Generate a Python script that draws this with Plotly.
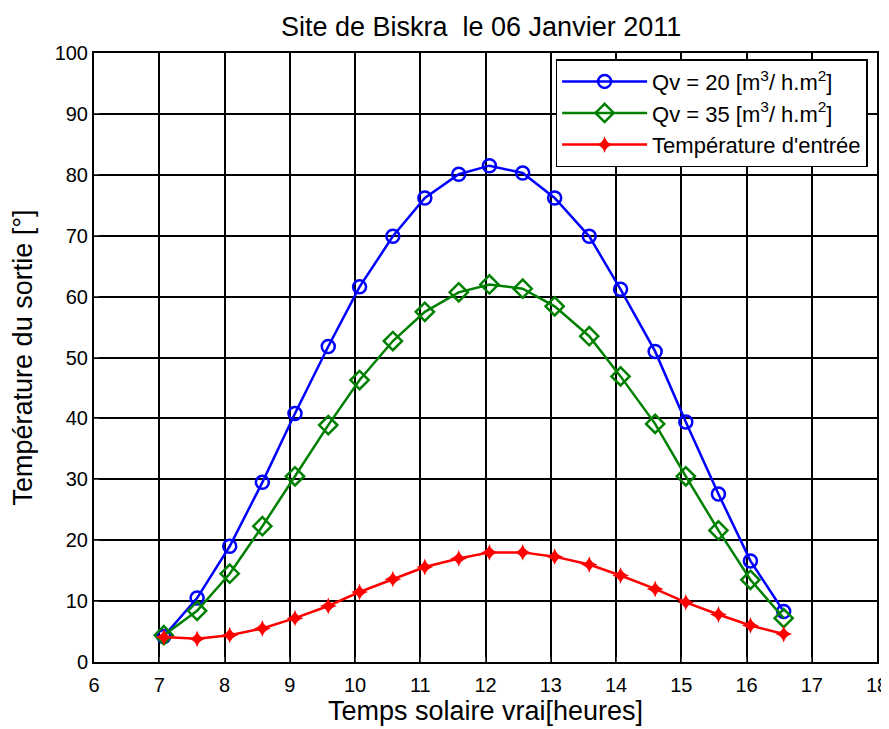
""" Site de Biskra - temperature de sortie """
import plotly.graph_objects as go

# heures solaires
heures = [7.07, 7.58, 8.08, 8.58, 9.08, 9.59, 10.07, 10.58, 11.07, 11.59,
          12.06, 12.57, 13.06, 13.59, 14.07, 14.6, 15.07, 15.57, 16.06, 16.57]

# Qv = 20
t_qv20 = [4.2, 10.5, 19.0, 29.5, 40.8, 51.8, 61.6, 69.9, 76.2, 80.1,
          81.5, 80.3, 76.2, 69.9, 61.2, 51.0, 39.4, 27.6, 16.6, 8.3]

# Qv = 35
t_qv35 = [4.4, 8.4, 14.5, 22.3, 30.5, 38.9, 46.3, 52.7, 57.5, 60.7,
          62.0, 61.3, 58.4, 53.5, 46.9, 39.1, 30.5, 21.6, 13.5, 7.2]

# entree
t_entree = [4.1, 3.8, 4.4, 5.5, 7.2, 9.2, 11.5, 13.6, 15.6, 17.0,
            18.0, 18.0, 17.3, 16.0, 14.2, 12.0, 9.8, 7.8, 6.0, 4.6]

font = "Liberation Sans, Arial, sans-serif"

fig = go.Figure()
fig.add_trace(go.Scatter(
    x=heures, y=t_qv20, mode="lines+markers",
    name="Qv = 20 [m<sup>3</sup>/ h.m<sup>2</sup>]",
    line=dict(color="#0000ff", width=2.5),
    marker=dict(symbol="circle-open", size=13, color="#0000ff", line=dict(width=2.5)),
))
fig.add_trace(go.Scatter(
    x=heures, y=t_qv35, mode="lines+markers",
    name="Qv = 35 [m<sup>3</sup>/ h.m<sup>2</sup>]",
    line=dict(color="#008000", width=2.5),
    marker=dict(symbol="diamond-open", size=14, color="#008000", line=dict(width=2.5)),
))
fig.add_trace(go.Scatter(
    x=heures, y=t_entree, mode="lines+markers",
    name="Température d'entrée",
    line=dict(color="#ff0000", width=2.5),
    marker=dict(symbol="star-diamond", size=12, color="#ff0000", line=dict(width=0)),
))

# the page body has an 8px margin, so the figure is a bit smaller than the window
fig.update_layout(
    width=881, height=721,
    margin=dict(l=86, r=12, t=45, b=67, autoexpand=False),
    paper_bgcolor="white", plot_bgcolor="white",
    font=dict(family=font, size=20, color="black"),
    title=dict(text="Site de Biskra  le 06 Janvier 2011", x=0.537, xanchor="center",
               y=0.974, yanchor="middle", font=dict(size=27)),
    legend=dict(x=0.988, y=0.99, xanchor="right", yanchor="top",
                bgcolor="white", bordercolor="black", borderwidth=1.5,
                font=dict(size=22), tracegroupgap=0, itemwidth=85),
    showlegend=True,
)
fig.update_xaxes(
    range=[6, 18], dtick=1, showgrid=True, gridcolor="black", gridwidth=1.5,
    showline=True, linecolor="black", linewidth=2, mirror=True,
    ticks="inside", ticklen=5, zeroline=False, automargin=False,
    ticklabelstandoff=4,
    title=dict(text="Temps solaire vrai[heures]", font=dict(size=27), standoff=3),
)
fig.update_yaxes(
    range=[0, 100], dtick=10, showgrid=True, gridcolor="black", gridwidth=1.5,
    showline=True, linecolor="black", linewidth=2, mirror=True,
    ticks="inside", ticklen=5, zeroline=False, automargin=False,
    title=dict(text="Température du sortie [°]", font=dict(size=27), standoff=27),
)

fig.write_html("out.html")
